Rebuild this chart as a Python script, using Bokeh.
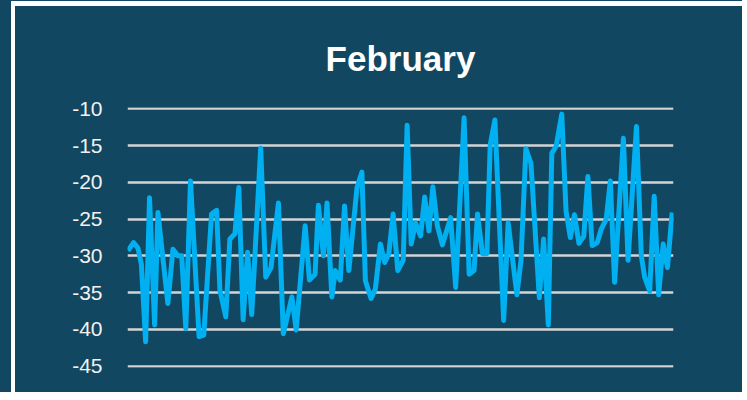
from bokeh.plotting import figure
from bokeh.layouts import column
from bokeh.models import FixedTicker, Range1d, ColumnDataSource
from bokeh.embed import file_html
from bokeh.resources import INLINE

# Day of February (fractional sample positions) and values
days = [1.02, 1.31, 1.53, 1.71, 1.93, 2.13, 2.39, 2.56, 3.07, 3.33, 3.59, 3.78, 3.99,
        4.23, 4.67, 4.91, 5.31, 5.57, 5.74, 6.04, 6.25, 6.51, 6.71, 6.93, 7.16, 7.37,
        7.83, 8.09, 8.36, 8.74, 8.99, 9.43, 9.65, 10.11, 10.33, 10.62, 10.79, 11.05,
        11.23, 11.48, 11.65, 11.91, 12.13, 12.35, 12.77, 13.02, 13.20, 13.49, 13.71,
        13.97, 14.19, 14.40, 14.62, 14.86, 15.14, 15.34, 15.55, 15.77, 16.03, 16.24,
        16.46, 16.66, 16.89, 17.15, 17.57, 17.83, 18.26, 18.52, 18.77, 18.95, 19.20,
        19.43, 19.60, 19.84, 20.29, 20.52, 20.97, 21.18, 21.43, 21.69, 22.12, 22.34,
        22.58, 22.76, 22.98, 23.27, 23.49, 23.71, 23.92, 24.15, 24.40, 24.61, 24.83,
        25.09, 25.29, 25.55, 25.76, 25.98, 26.43, 26.67, 27.10, 27.35, 27.52, 27.78,
        28.01, 28.24, 28.47, 28.69, 28.93]
values = [-29.3, -28.2, -28.9, -31.1, -41.7, -22.1, -39.4, -24.1, -36.5, -29.1, -30.0, -30.0, -39.9,
          -19.8, -41.0, -40.8, -24.3, -23.8, -34.7, -38.3, -27.7, -27.0, -20.7, -38.7, -29.5, -38.0,
          -15.3, -32.9, -31.6, -22.8, -40.6, -35.6, -40.1, -25.9, -33.3, -32.5, -23.1, -30.0,
          -22.8, -35.6, -32.0, -33.3, -23.2, -32.0, -20.7, -18.6, -33.4, -35.8, -34.5,
          -28.4, -30.9, -29.7, -24.3, -32.0, -30.6, -12.2, -28.4, -25.5, -27.3, -22.0,
          -26.6, -20.6, -25.9, -28.5, -24.8, -34.3, -11.2, -32.5, -32.0, -24.3, -29.7,
          -29.7, -14.9, -11.5, -38.8, -25.5, -35.3, -30.6, -15.4, -17.4, -35.7, -27.7,
          -39.4, -16.0, -15.1, -10.7, -23.9, -27.5, -24.4, -28.3, -27.3, -19.2, -28.6,
          -28.2, -26.4, -25.0, -19.8, -33.6, -14.0, -30.6, -12.4, -30.0, -32.9, -34.8,
          -21.9, -35.3, -28.4, -31.6, -24.1]
y_ticks = [-45, -40, -35, -30, -25, -20, -15, -10]
title_text = "February"

BG = "#124761"
LINE = "#00b0f0"

p = figure(width=731, height=391, output_backend="svg", toolbar_location=None,
           x_range=Range1d(1, 29), y_range=Range1d(-45.2, -9.8),
           min_border_left=112, min_border_right=73, min_border_bottom=30, min_border_top=80)

p.background_fill_color = BG
p.border_fill_color = BG
p.outline_line_color = None

p.title.text = title_text
p.title.align = "center"
p.title.text_color = "white"
p.title.text_font = "Liberation Sans"
p.title.text_font_size = "35px"
p.title.text_font_style = "bold"
p.title.standoff = 60

p.xaxis.visible = False
p.xgrid.visible = False

p.yaxis.ticker = FixedTicker(ticks=y_ticks)
p.yaxis.major_label_overrides = {t: str(t) for t in y_ticks}
p.yaxis.axis_line_color = None
p.yaxis.major_tick_line_color = None
p.yaxis.minor_tick_line_color = None
p.yaxis.major_label_text_color = "#f2f2f2"
p.yaxis.major_label_text_font = "Liberation Sans"
p.yaxis.major_label_text_font_size = "21px"
p.yaxis.major_label_standoff = 19

p.ygrid.ticker = FixedTicker(ticks=y_ticks)
p.ygrid.grid_line_color = "#d4d4d4"
p.ygrid.grid_line_width = 2.5

src = ColumnDataSource(data=dict(x=days, y=values))
p.line("x", "y", source=src, line_color=LINE, line_width=5, line_join="round")

p.styles = {"border-left": "4px solid white", "border-top": "5px solid white"}
layout = column(p, styles={"background-color": BG, "padding-left": "11px", "padding-top": "1px"})

open("out.html", "w").write(file_html(layout, INLINE))
